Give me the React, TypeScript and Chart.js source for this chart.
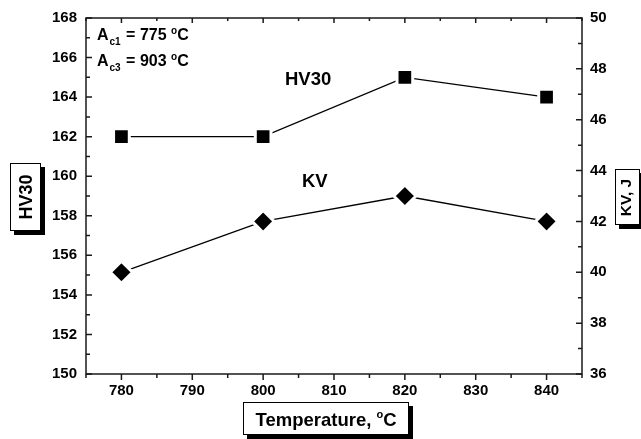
import React, { useEffect, useRef } from "react";
import { Chart, registerables } from "chart.js";

Chart.register(...registerables);

// ---- data ----
const temperatures = [780, 800, 820, 840];
const hv30Values = [162, 162, 165, 164];
const kvValues = [40, 42, 43, 42];

// ---- tick labels ----
const xTicks = [780, 790, 800, 810, 820, 830, 840];
const hvTicks = [150, 152, 154, 156, 158, 160, 162, 164, 166, 168];
const kvTicks = [36, 38, 40, 42, 44, 46, 48, 50];

// ---- text ----
const xTitle = "Temperature, ";
const yTitle = "HV30";
const y1Title = "KV, J";
const hvLabel = "HV30";
const kvLabel = "KV";
const ac1Value = " = 775 ";
const ac3Value = " = 903 ";

const FONT = "'Liberation Sans', Arial, Helvetica, sans-serif";

type Part = { t: string; size: number; dy: number; gap?: number };

function partsWidth(ctx: CanvasRenderingContext2D, parts: Part[]) {
  let w = 0;
  for (const p of parts) {
    ctx.font = `bold ${p.size}px ${FONT}`;
    w += (p.gap || 0) + ctx.measureText(p.t).width;
  }
  return w;
}

function drawParts(ctx: CanvasRenderingContext2D, parts: Part[], x: number, y: number) {
  let cx = x;
  ctx.textAlign = "left";
  ctx.textBaseline = "alphabetic";
  for (const p of parts) {
    ctx.font = `bold ${p.size}px ${FONT}`;
    cx += p.gap || 0;
    ctx.fillText(p.t, cx, y + p.dy);
    cx += ctx.measureText(p.t).width;
  }
}

function shadowBox(ctx: CanvasRenderingContext2D, x: number, y: number, w: number, h: number) {
  ctx.fillStyle = "#000";
  ctx.fillRect(x + 4, y + 4, w, h);
  ctx.fillStyle = "#fff";
  ctx.fillRect(x, y, w, h);
  ctx.strokeStyle = "#000";
  ctx.lineWidth = 1;
  ctx.strokeRect(x + 0.5, y + 0.5, w - 1, h - 1);
}

const decorPlugin = {
  id: "decor",
  afterDraw(chart: any) {
    const ctx: CanvasRenderingContext2D = chart.ctx;
    const { left, right, top, bottom } = chart.chartArea;
    const xs = chart.scales.x;
    const ys = chart.scales.y;
    const y1s = chart.scales.y1;
    ctx.save();

    // frame
    ctx.strokeStyle = "#1a1a1a";
    ctx.lineWidth = 1.5;
    ctx.strokeRect(left, top, right - left, bottom - top);

    // tick marks
    ctx.beginPath();
    const xStep = xTicks[1] - xTicks[0];
    for (let v = xs.min; v <= xs.max + 1e-6; v += xStep / 2) {
      const px = xs.getPixelForValue(v);
      const major = xTicks.includes(v);
      ctx.moveTo(px, bottom);
      ctx.lineTo(px, bottom + (major ? 6 : 4));
      ctx.moveTo(px, top);
      ctx.lineTo(px, top + (major ? 5 : 3));
    }
    const yStep = hvTicks[1] - hvTicks[0];
    for (let v = ys.min; v <= ys.max + 1e-6; v += yStep / 2) {
      const py = ys.getPixelForValue(v);
      const major = hvTicks.includes(v);
      ctx.moveTo(left, py);
      ctx.lineTo(left + (major ? 6 : 4), py);
    }
    const y1Step = kvTicks[1] - kvTicks[0];
    for (let v = y1s.min; v <= y1s.max + 1e-6; v += y1Step / 2) {
      const py = y1s.getPixelForValue(v);
      const major = kvTicks.includes(v);
      ctx.moveTo(right, py);
      ctx.lineTo(right - (major ? 6 : 4), py);
    }
    ctx.stroke();

    ctx.fillStyle = "#000";
    // annotations in plot
    drawParts(ctx, [
      { t: "A", size: 16, dy: 0 },
      { t: "c1", size: 10, dy: 5, gap: 1 },
      { t: ac1Value, size: 16, dy: 0, gap: 1 },
      { t: "o", size: 10, dy: -6 },
      { t: "C", size: 16, dy: 0 },
    ], 97, 39.5);
    ctx.fillStyle = "#000";
    drawParts(ctx, [
      { t: "A", size: 16, dy: 0 },
      { t: "c3", size: 10, dy: 5, gap: 1 },
      { t: ac3Value, size: 16, dy: 0, gap: 1 },
      { t: "o", size: 10, dy: -6 },
      { t: "C", size: 16, dy: 0 },
    ], 97, 65.5);

    ctx.font = `bold 18.5px ${FONT}`;
    ctx.textAlign = "left";
    ctx.fillText(hvLabel, 285, 85);
    ctx.fillText(kvLabel, 302, 187);

    // bottom title
    shadowBox(ctx, 243, 402, 166, 33);
    ctx.fillStyle = "#000";
    const tParts: Part[] = [
      { t: xTitle, size: 18.5, dy: 0 },
      { t: "o", size: 11, dy: -8 },
      { t: "C", size: 18.5, dy: 0 },
    ];
    const tw = partsWidth(ctx, tParts);
    drawParts(ctx, tParts, 326 - tw / 2, 426);

    // left title
    shadowBox(ctx, 10, 163, 31, 68);
    ctx.save();
    ctx.fillStyle = "#000";
    ctx.translate(31.5, 197);
    ctx.rotate(-Math.PI / 2);
    ctx.font = `bold 18px ${FONT}`;
    ctx.textAlign = "center";
    ctx.textBaseline = "alphabetic";
    ctx.fillText(yTitle, 0, 0);
    ctx.restore();

    // right title
    shadowBox(ctx, 615, 169, 25, 56);
    ctx.save();
    ctx.fillStyle = "#000";
    ctx.translate(631, 197.5);
    ctx.rotate(-Math.PI / 2);
    ctx.font = `bold 15.5px ${FONT}`;
    ctx.textAlign = "center";
    ctx.textBaseline = "alphabetic";
    ctx.fillText(y1Title, 0, 0);
    ctx.restore();

    ctx.restore();
  },
};

const tickFont = { family: FONT, size: 15, weight: "bold" as const };

export default function App() {
  const ref = useRef<HTMLCanvasElement>(null);
  useEffect(() => {
    const chart = new Chart(ref.current as HTMLCanvasElement, {
      type: "line",
      data: {
        datasets: [
          {
            label: "HV30",
            data: temperatures.map((t, i) => ({ x: t, y: hv30Values[i] })),
            yAxisID: "y",
            borderColor: "#000",
            borderWidth: 1.3,
            pointStyle: "rect",
            pointRadius: 11.1,
            pointHoverRadius: 11.1,
            pointBackgroundColor: "#000",
            pointBorderColor: "#fff",
            pointBorderWidth: 3,
            tension: 0,
          },
          {
            label: "KV",
            data: temperatures.map((t, i) => ({ x: t, y: kvValues[i] })),
            yAxisID: "y1",
            borderColor: "#000",
            borderWidth: 1.3,
            pointStyle: "rectRot",
            pointRadius: 11.1,
            pointHoverRadius: 11.1,
            pointBackgroundColor: "#000",
            pointBorderColor: "#fff",
            pointBorderWidth: 3,
            tension: 0,
          },
        ],
      },
      options: {
        responsive: false,
        animation: false,
        devicePixelRatio: 1,
        layout: { padding: { top: 18, left: 0, right: 0, bottom: 0 } },
        plugins: { legend: { display: false }, tooltip: { enabled: false } },
        scales: {
          x: {
            type: "linear",
            min: 775,
            max: 845,
            afterBuildTicks: (s: any) => {
              s.ticks = xTicks.map((v) => ({ value: v }));
            },
            afterFit: (s: any) => {
              s.height = 65;
            },
            ticks: { font: tickFont, color: "#000", padding: 8, maxRotation: 0, autoSkip: false },
            grid: { display: false, drawTicks: false },
            border: { display: false },
          },
          y: {
            type: "linear",
            position: "left",
            min: 150,
            max: 168,
            afterBuildTicks: (s: any) => {
              s.ticks = hvTicks.map((v) => ({ value: v }));
            },
            afterFit: (s: any) => {
              s.width = 86;
            },
            ticks: { font: tickFont, color: "#000", padding: 9, autoSkip: false },
            grid: { display: false, drawTicks: false },
            border: { display: false },
          },
          y1: {
            type: "linear",
            position: "right",
            min: 36,
            max: 50,
            afterBuildTicks: (s: any) => {
              s.ticks = kvTicks.map((v) => ({ value: v }));
            },
            afterFit: (s: any) => {
              s.width = 59;
            },
            ticks: { font: tickFont, color: "#000", padding: 8, autoSkip: false },
            grid: { display: false, drawTicks: false },
            border: { display: false },
          },
        },
      },
      plugins: [decorPlugin],
    } as any);
    return () => chart.destroy();
  }, []);
  return (
    <div style={{ position: "fixed", left: 0, top: 0, width: 641, height: 439, background: "#fff" }}>
      <canvas ref={ref} width={641} height={439} style={{ display: "block" }} />
    </div>
  );
}
